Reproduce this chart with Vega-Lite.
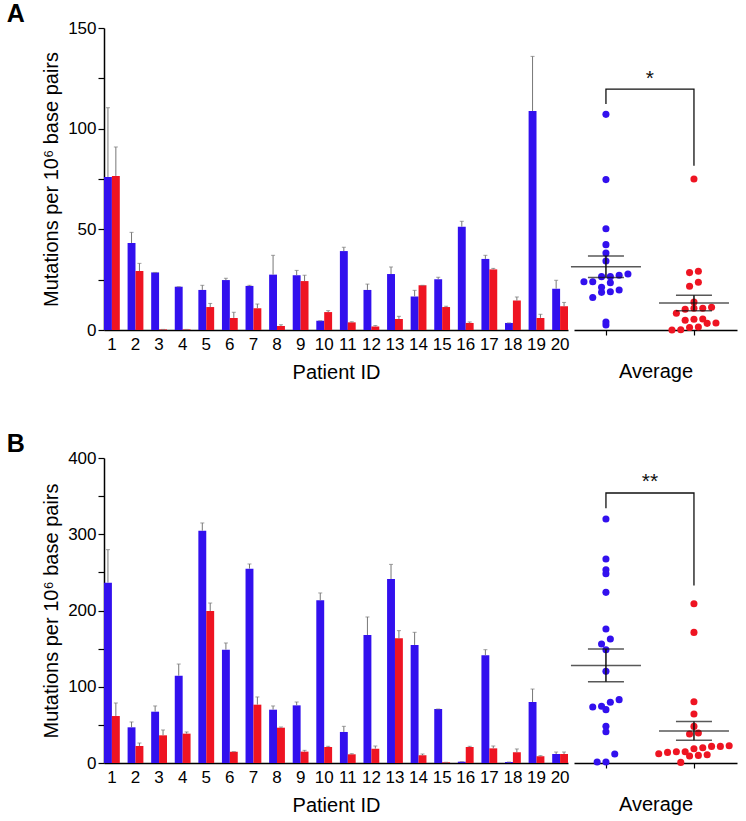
{
  "$schema": "https://vega.github.io/schema/vega-lite/v6.json",
  "padding": {"left": 6, "top": 2, "right": 5, "bottom": 2},
  "config": {
    "view": {"stroke": null},
    "font": "Liberation Sans",
    "axis": {"labelFont": "Liberation Sans", "titleFont": "Liberation Sans", "labelColor": "black", "titleColor": "black", "domainColor": "black", "tickColor": "black", "titleFontWeight": "normal", "grid": false, "labelFontSize": 17, "titleFontSize": 20, "domainWidth": 1.5, "tickWidth": 1.2},
    "title": {"font": "Liberation Sans", "color": "black"}
  },
  "datasets": {
    "bars": [
      {"panel": "A", "patient": 1, "g": "g1", "v": 76.0, "hi": 110.4}, {"panel": "A", "patient": 1, "g": "g2", "v": 76.5, "hi": 90.9},
      {"panel": "A", "patient": 2, "g": "g1", "v": 43.2, "hi": 48.5}, {"panel": "A", "patient": 2, "g": "g2", "v": 29.3, "hi": 33.1},
      {"panel": "A", "patient": 3, "g": "g1", "v": 28.6, "hi": 28.6}, {"panel": "A", "patient": 3, "g": "g2", "v": 0.3, "hi": 0.3},
      {"panel": "A", "patient": 4, "g": "g1", "v": 21.5, "hi": 21.5}, {"panel": "A", "patient": 4, "g": "g2", "v": 0.3, "hi": 0.3},
      {"panel": "A", "patient": 5, "g": "g1", "v": 19.9, "hi": 22.2}, {"panel": "A", "patient": 5, "g": "g2", "v": 11.4, "hi": 13.2},
      {"panel": "A", "patient": 6, "g": "g1", "v": 24.8, "hi": 25.7}, {"panel": "A", "patient": 6, "g": "g2", "v": 6.0, "hi": 8.8},
      {"panel": "A", "patient": 7, "g": "g1", "v": 21.9, "hi": 22.2}, {"panel": "A", "patient": 7, "g": "g2", "v": 10.8, "hi": 12.9},
      {"panel": "A", "patient": 8, "g": "g1", "v": 27.5, "hi": 37.1}, {"panel": "A", "patient": 8, "g": "g2", "v": 2.0, "hi": 2.6},
      {"panel": "A", "patient": 9, "g": "g1", "v": 27.2, "hi": 29.6}, {"panel": "A", "patient": 9, "g": "g2", "v": 24.3, "hi": 27.2},
      {"panel": "A", "patient": 10, "g": "g1", "v": 4.6, "hi": 4.6}, {"panel": "A", "patient": 10, "g": "g2", "v": 8.9, "hi": 9.6},
      {"panel": "A", "patient": 11, "g": "g1", "v": 39.2, "hi": 41.1}, {"panel": "A", "patient": 11, "g": "g2", "v": 3.8, "hi": 4.1},
      {"panel": "A", "patient": 12, "g": "g1", "v": 19.9, "hi": 22.8}, {"panel": "A", "patient": 12, "g": "g2", "v": 1.8, "hi": 2.2},
      {"panel": "A", "patient": 13, "g": "g1", "v": 27.8, "hi": 31.3}, {"panel": "A", "patient": 13, "g": "g2", "v": 5.5, "hi": 6.8},
      {"panel": "A", "patient": 14, "g": "g1", "v": 16.7, "hi": 19.7}, {"panel": "A", "patient": 14, "g": "g2", "v": 22.2, "hi": 22.2},
      {"panel": "A", "patient": 15, "g": "g1", "v": 25.2, "hi": 26.2}, {"panel": "A", "patient": 15, "g": "g2", "v": 11.4, "hi": 11.8},
      {"panel": "A", "patient": 16, "g": "g1", "v": 51.3, "hi": 54.0}, {"panel": "A", "patient": 16, "g": "g2", "v": 3.5, "hi": 4.0},
      {"panel": "A", "patient": 17, "g": "g1", "v": 35.3, "hi": 37.1}, {"panel": "A", "patient": 17, "g": "g2", "v": 30.1, "hi": 30.6},
      {"panel": "A", "patient": 18, "g": "g1", "v": 3.5, "hi": 3.5}, {"panel": "A", "patient": 18, "g": "g2", "v": 14.6, "hi": 16.4},
      {"panel": "A", "patient": 19, "g": "g1", "v": 108.8, "hi": 135.9}, {"panel": "A", "patient": 19, "g": "g2", "v": 6.0, "hi": 7.8},
      {"panel": "A", "patient": 20, "g": "g1", "v": 20.5, "hi": 24.7}, {"panel": "A", "patient": 20, "g": "g2", "v": 11.8, "hi": 13.7},
      {"panel": "B", "patient": 1, "g": "g1", "v": 236.5, "hi": 279.8}, {"panel": "B", "patient": 1, "g": "g2", "v": 61.6, "hi": 78.7},
      {"panel": "B", "patient": 2, "g": "g1", "v": 46.8, "hi": 53.8}, {"panel": "B", "patient": 2, "g": "g2", "v": 22.3, "hi": 26.2},
      {"panel": "B", "patient": 3, "g": "g1", "v": 67.3, "hi": 74.8}, {"panel": "B", "patient": 3, "g": "g2", "v": 36.3, "hi": 43.3},
      {"panel": "B", "patient": 4, "g": "g1", "v": 114.5, "hi": 129.8}, {"panel": "B", "patient": 4, "g": "g2", "v": 38.5, "hi": 40.7},
      {"panel": "B", "patient": 5, "g": "g1", "v": 304.7, "hi": 314.8}, {"panel": "B", "patient": 5, "g": "g2", "v": 199.3, "hi": 209.8},
      {"panel": "B", "patient": 6, "g": "g1", "v": 148.6, "hi": 157.4}, {"panel": "B", "patient": 6, "g": "g2", "v": 14.9, "hi": 14.9},
      {"panel": "B", "patient": 7, "g": "g1", "v": 254.9, "hi": 261.0}, {"panel": "B", "patient": 7, "g": "g2", "v": 76.5, "hi": 86.6},
      {"panel": "B", "patient": 8, "g": "g1", "v": 69.9, "hi": 74.8}, {"panel": "B", "patient": 8, "g": "g2", "v": 46.3, "hi": 47.2},
      {"panel": "B", "patient": 9, "g": "g1", "v": 75.6, "hi": 80.0}, {"panel": "B", "patient": 9, "g": "g2", "v": 14.9, "hi": 16.6},
      {"panel": "B", "patient": 10, "g": "g1", "v": 213.3, "hi": 223.0}, {"panel": "B", "patient": 10, "g": "g2", "v": 21.0, "hi": 21.9},
      {"panel": "B", "patient": 11, "g": "g1", "v": 40.7, "hi": 48.1}, {"panel": "B", "patient": 11, "g": "g2", "v": 11.4, "hi": 12.2},
      {"panel": "B", "patient": 12, "g": "g1", "v": 167.9, "hi": 191.5}, {"panel": "B", "patient": 12, "g": "g2", "v": 18.8, "hi": 22.3},
      {"panel": "B", "patient": 13, "g": "g1", "v": 241.3, "hi": 260.5}, {"panel": "B", "patient": 13, "g": "g2", "v": 163.5, "hi": 173.6},
      {"panel": "B", "patient": 14, "g": "g1", "v": 154.8, "hi": 171.4}, {"panel": "B", "patient": 14, "g": "g2", "v": 10.1, "hi": 11.8},
      {"panel": "B", "patient": 15, "g": "g1", "v": 70.8, "hi": 70.8}, {"panel": "B", "patient": 15, "g": "g2", "v": 0.9, "hi": 0.9},
      {"panel": "B", "patient": 16, "g": "g1", "v": 1.7, "hi": 1.7}, {"panel": "B", "patient": 16, "g": "g2", "v": 21.0, "hi": 21.9},
      {"panel": "B", "patient": 17, "g": "g1", "v": 141.2, "hi": 148.6}, {"panel": "B", "patient": 17, "g": "g2", "v": 19.2, "hi": 22.3},
      {"panel": "B", "patient": 18, "g": "g1", "v": 1.3, "hi": 1.3}, {"panel": "B", "patient": 18, "g": "g2", "v": 14.0, "hi": 18.4},
      {"panel": "B", "patient": 19, "g": "g1", "v": 80.0, "hi": 97.0}, {"panel": "B", "patient": 19, "g": "g2", "v": 8.7, "hi": 9.6},
      {"panel": "B", "patient": 20, "g": "g1", "v": 11.8, "hi": 14.4}, {"panel": "B", "patient": 20, "g": "g2", "v": 11.8, "hi": 14.4}
    ],
    "dotsA": [
      {"g": "g1", "v": 107.1}, {"g": "g1", "v": 74.7}, {"g": "g1", "v": 50.3}, {"g": "g1", "v": 42.4}, {"g": "g1", "v": 38.2},
      {"g": "g1", "v": 34.3}, {"g": "g1", "v": 27.8}, {"g": "g1", "v": 26.5}, {"g": "g1", "v": 26.5}, {"g": "g1", "v": 27.2},
      {"g": "g1", "v": 24.0}, {"g": "g1", "v": 23.5}, {"g": "g1", "v": 24.0}, {"g": "g1", "v": 21.2}, {"g": "g1", "v": 19.9},
      {"g": "g1", "v": 18.7}, {"g": "g1", "v": 19.0}, {"g": "g1", "v": 16.1}, {"g": "g1", "v": 2.5}, {"g": "g1", "v": 4.0},
      {"g": "g2", "v": 75.0}, {"g": "g2", "v": 28.5}, {"g": "g2", "v": 29.2}, {"g": "g2", "v": 23.7}, {"g": "g2", "v": 21.7},
      {"g": "g2", "v": 13.9}, {"g": "g2", "v": 10.8}, {"g": "g2", "v": 10.3}, {"g": "g2", "v": 10.8}, {"g": "g2", "v": 11.3},
      {"g": "g2", "v": 8.3}, {"g": "g2", "v": 5.3}, {"g": "g2", "v": 4.8}, {"g": "g2", "v": 5.5}, {"g": "g2", "v": 3.3},
      {"g": "g2", "v": 3.5}, {"g": "g2", "v": 1.2}, {"g": "g2", "v": 0.0}, {"g": "g2", "v": 0.1}, {"g": "g2", "v": 1.5}
    ],
    "dotsB": [
      {"g": "g1", "v": 320.0}, {"g": "g1", "v": 267.5}, {"g": "g1", "v": 253.5}, {"g": "g1", "v": 248.3}, {"g": "g1", "v": 223.8},
      {"g": "g1", "v": 175.7}, {"g": "g1", "v": 162.6}, {"g": "g1", "v": 156.1}, {"g": "g1", "v": 148.6}, {"g": "g1", "v": 120.2},
      {"g": "g1", "v": 83.1}, {"g": "g1", "v": 79.6}, {"g": "g1", "v": 74.4}, {"g": "g1", "v": 73.5}, {"g": "g1", "v": 70.0},
      {"g": "g1", "v": 48.1}, {"g": "g1", "v": 41.1}, {"g": "g1", "v": 11.8}, {"g": "g1", "v": 1.3}, {"g": "g1", "v": 1.3},
      {"g": "g2", "v": 208.9}, {"g": "g2", "v": 171.3}, {"g": "g2", "v": 80.4}, {"g": "g2", "v": 64.2}, {"g": "g2", "v": 48.0},
      {"g": "g2", "v": 38.0}, {"g": "g2", "v": 39.3}, {"g": "g2", "v": 22.7}, {"g": "g2", "v": 21.8}, {"g": "g2", "v": 18.8},
      {"g": "g2", "v": 14.8}, {"g": "g2", "v": 13.9}, {"g": "g2", "v": 14.8}, {"g": "g2", "v": 20.1}, {"g": "g2", "v": 21.8},
      {"g": "g2", "v": 12.2}, {"g": "g2", "v": 10.0}, {"g": "g2", "v": 9.2}, {"g": "g2", "v": 10.9}, {"g": "g2", "v": 0.8}
    ],
    "bracket": [
      {"panel": "A", "g": "g1", "v": 112.2, "k": 1}, {"panel": "A", "g": "g1", "v": 119.6, "k": 2},
      {"panel": "A", "g": "g2", "v": 119.6, "k": 3}, {"panel": "A", "g": "g2", "v": 81.6, "k": 4},
      {"panel": "B", "g": "g1", "v": 334.0, "k": 1}, {"panel": "B", "g": "g1", "v": 354.1, "k": 2},
      {"panel": "B", "g": "g2", "v": 354.1, "k": 3}, {"panel": "B", "g": "g2", "v": 232.9, "k": 4}
    ],
    "stars": [
      {"panel": "A", "label": "*", "v": 124.5},
      {"panel": "B", "label": "**", "v": 368.0}
    ]
  },
  "vconcat": [
    {
      "title": {"text": "A", "anchor": "start", "fontSize": 25, "fontWeight": "bold", "dx": -35, "frame": "bounds", "offset": -8},
      "spacing": 0,
      "hconcat": [
        {
          "width": 464, "height": 302,
          "data": {"name": "bars"},
          "transform": [{"filter": "datum.panel === 'A'"}],
          "encoding": {
            "x": {"field": "patient", "type": "ordinal", "scale": {"paddingInner": 0.33, "paddingOuter": 0}, "axis": {"title": "Patient ID", "labelAngle": 0, "ticks": false, "labelPadding": 6, "titlePadding": 10}},
            "xOffset": {"field": "g", "scale": {"domain": ["g1", "g2"]}},
            "y": {"field": "v", "type": "quantitative", "scale": {"domain": [0, 150], "nice": false}, "axis": {"title": "Mutations per 10⁶ base pairs", "values": [0, 25, 50, 75, 100, 125, 150], "labelExpr": "datum.value % 50 === 0 ? datum.label : ''", "tickSize": 6, "titlePadding": 6}}
          },
          "layer": [
            {"mark": {"type": "bar"}, "encoding": {"color": {"field": "g", "scale": {"domain": ["g1", "g2"], "range": ["#3210ee", "#ee1422"]}, "legend": null}}},
            {"mark": {"type": "rule", "color": "#777", "strokeWidth": 1}, "encoding": {"y2": {"field": "hi"}}},
            {"mark": {"type": "tick", "orient": "horizontal", "size": 4, "thickness": 1, "color": "#777"}, "encoding": {"y": {"field": "hi", "type": "quantitative"}}}
          ]
        },
        {
          "width": 163, "height": 302,
          "layer": [
            {
              "data": {"name": "dotsA"},
              "transform": [
                {"bin": {"step": 4, "anchor": 0}, "field": "v", "as": "vb"},
                {"window": [{"op": "row_number", "as": "rn"}, {"op": "count", "as": "cnt"}], "groupby": ["g", "vb"], "sort": [{"field": "v"}], "frame": [null, null]},
                {"calculate": "(datum.g === 'g1' ? 0 : 1) + (datum.rn - (datum.cnt + 1) / 2) * 0.1", "as": "xp"}
              ],
              "mark": {"type": "circle", "size": 50, "opacity": 1},
              "encoding": {
                "x": {"field": "xp", "type": "quantitative", "scale": {"domain": [-0.363, 1.489], "nice": false, "zero": false}, "axis": {"title": "Average", "values": [0, 1], "labels": false, "tickSize": 5, "titlePadding": 26}},
                "y": {"field": "v", "type": "quantitative", "scale": {"domain": [0, 150], "nice": false}, "axis": null},
                "color": {"field": "g", "scale": {"domain": ["g1", "g2"], "range": ["#3210ee", "#ee1422"]}, "legend": null}
              }
            },
            {
              "data": {"name": "dotsA"},
              "transform": [
                {"aggregate": [{"op": "mean", "field": "v", "as": "m"}, {"op": "stderr", "field": "v", "as": "se"}], "groupby": ["g"]},
                {"calculate": "datum.g === 'g1' ? 0 : 1", "as": "gx"},
                {"calculate": "datum.m - datum.se", "as": "lo"},
                {"calculate": "datum.m + datum.se", "as": "hi"}
              ],
              "encoding": {"x": {"field": "gx", "type": "quantitative"}},
              "layer": [
                {"mark": {"type": "rule", "color": "#111", "strokeWidth": 1.5}, "encoding": {"y": {"field": "lo", "type": "quantitative"}, "y2": {"field": "hi"}}},
                {"mark": {"type": "tick", "orient": "horizontal", "size": 70, "thickness": 1.5, "color": "#111"}, "encoding": {"y": {"field": "m", "type": "quantitative"}}},
                {"transform": [{"fold": ["lo", "hi"], "as": ["which", "ev"]}], "mark": {"type": "tick", "orient": "horizontal", "size": 36, "thickness": 1.5, "color": "#111"}, "encoding": {"y": {"field": "ev", "type": "quantitative"}}}
              ]
            },
            {
              "data": {"name": "bracket"},
              "transform": [{"filter": "datum.panel === 'A'"}, {"calculate": "datum.g === 'g1' ? 0 : 1", "as": "gx"}],
              "mark": {"type": "line", "color": "#111", "strokeWidth": 1.3},
              "encoding": {"x": {"field": "gx", "type": "quantitative"}, "y": {"field": "v", "type": "quantitative"}, "order": {"field": "k"}}
            },
            {
              "data": {"name": "stars"},
              "transform": [{"filter": "datum.panel === 'A'"}],
              "mark": {"type": "text", "fontSize": 21, "baseline": "middle", "color": "#111"},
              "encoding": {"x": {"datum": 0.5}, "y": {"field": "v", "type": "quantitative"}, "text": {"field": "label"}}
            }
          ]
        }
      ]
    },
    {
      "title": {"text": "B", "anchor": "start", "fontSize": 25, "fontWeight": "bold", "dx": -35, "frame": "bounds", "offset": -8},
      "spacing": 0,
      "hconcat": [
        {
          "width": 464, "height": 305,
          "data": {"name": "bars"},
          "transform": [{"filter": "datum.panel === 'B'"}],
          "encoding": {
            "x": {"field": "patient", "type": "ordinal", "scale": {"paddingInner": 0.33, "paddingOuter": 0}, "axis": {"title": "Patient ID", "labelAngle": 0, "ticks": false, "labelPadding": 6, "titlePadding": 10}},
            "xOffset": {"field": "g", "scale": {"domain": ["g1", "g2"]}},
            "y": {"field": "v", "type": "quantitative", "scale": {"domain": [0, 400], "nice": false}, "axis": {"title": "Mutations per 10⁶ base pairs", "values": [0, 50, 100, 150, 200, 250, 300, 350, 400], "labelExpr": "datum.value % 100 === 0 ? datum.label : ''", "tickSize": 6, "titlePadding": 6}}
          },
          "layer": [
            {"mark": {"type": "bar"}, "encoding": {"color": {"field": "g", "scale": {"domain": ["g1", "g2"], "range": ["#3210ee", "#ee1422"]}, "legend": null}}},
            {"mark": {"type": "rule", "color": "#777", "strokeWidth": 1}, "encoding": {"y2": {"field": "hi"}}},
            {"mark": {"type": "tick", "orient": "horizontal", "size": 4, "thickness": 1, "color": "#777"}, "encoding": {"y": {"field": "hi", "type": "quantitative"}}}
          ]
        },
        {
          "width": 163, "height": 305,
          "layer": [
            {
              "data": {"name": "dotsB"},
              "transform": [
                {"bin": {"step": 12, "anchor": 0}, "field": "v", "as": "vb"},
                {"window": [{"op": "row_number", "as": "rn"}, {"op": "count", "as": "cnt"}], "groupby": ["g", "vb"], "sort": [{"field": "v"}], "frame": [null, null]},
                {"calculate": "(datum.g === 'g1' ? 0 : 1) + (datum.rn - (datum.cnt + 1) / 2) * 0.1", "as": "xp"}
              ],
              "mark": {"type": "circle", "size": 50, "opacity": 1},
              "encoding": {
                "x": {"field": "xp", "type": "quantitative", "scale": {"domain": [-0.363, 1.489], "nice": false, "zero": false}, "axis": {"title": "Average", "values": [0, 1], "labels": false, "tickSize": 5, "titlePadding": 26}},
                "y": {"field": "v", "type": "quantitative", "scale": {"domain": [0, 400], "nice": false}, "axis": null},
                "color": {"field": "g", "scale": {"domain": ["g1", "g2"], "range": ["#3210ee", "#ee1422"]}, "legend": null}
              }
            },
            {
              "data": {"name": "dotsB"},
              "transform": [
                {"aggregate": [{"op": "mean", "field": "v", "as": "m"}, {"op": "stderr", "field": "v", "as": "se"}], "groupby": ["g"]},
                {"calculate": "datum.g === 'g1' ? 0 : 1", "as": "gx"},
                {"calculate": "datum.m - datum.se", "as": "lo"},
                {"calculate": "datum.m + datum.se", "as": "hi"}
              ],
              "encoding": {"x": {"field": "gx", "type": "quantitative"}},
              "layer": [
                {"mark": {"type": "rule", "color": "#111", "strokeWidth": 1.5}, "encoding": {"y": {"field": "lo", "type": "quantitative"}, "y2": {"field": "hi"}}},
                {"mark": {"type": "tick", "orient": "horizontal", "size": 70, "thickness": 1.5, "color": "#111"}, "encoding": {"y": {"field": "m", "type": "quantitative"}}},
                {"transform": [{"fold": ["lo", "hi"], "as": ["which", "ev"]}], "mark": {"type": "tick", "orient": "horizontal", "size": 36, "thickness": 1.5, "color": "#111"}, "encoding": {"y": {"field": "ev", "type": "quantitative"}}}
              ]
            },
            {
              "data": {"name": "bracket"},
              "transform": [{"filter": "datum.panel === 'B'"}, {"calculate": "datum.g === 'g1' ? 0 : 1", "as": "gx"}],
              "mark": {"type": "line", "color": "#111", "strokeWidth": 1.3},
              "encoding": {"x": {"field": "gx", "type": "quantitative"}, "y": {"field": "v", "type": "quantitative"}, "order": {"field": "k"}}
            },
            {
              "data": {"name": "stars"},
              "transform": [{"filter": "datum.panel === 'B'"}],
              "mark": {"type": "text", "fontSize": 21, "baseline": "middle", "color": "#111"},
              "encoding": {"x": {"datum": 0.5}, "y": {"field": "v", "type": "quantitative"}, "text": {"field": "label"}}
            }
          ]
        }
      ]
    }
  ],
  "spacing": 50
}
